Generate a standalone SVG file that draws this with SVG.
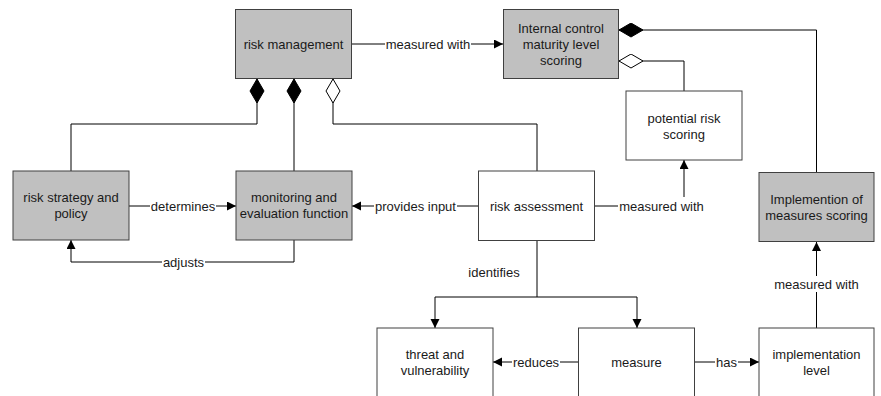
<svg xmlns="http://www.w3.org/2000/svg" width="881" height="396" viewBox="0 0 881 396">
<style>
.box{stroke:#404040;stroke-width:1}
.g{fill:#c0c0c0}
.w{fill:#fff}
text{font-family:"Liberation Sans",Arial,sans-serif;font-size:13px;fill:#1a1a1a;text-anchor:middle;dominant-baseline:central}
.c{fill:none;stroke:#000;stroke-width:1}
.lb{fill:#fff;stroke:none}
</style>
<defs>
<marker id="arr" markerUnits="userSpaceOnUse" markerWidth="10" markerHeight="10" refX="9" refY="4.5" orient="auto"><path d="M0,0 L9,4.5 L0,9 z" fill="#000"/></marker>
<marker id="dfill" markerUnits="userSpaceOnUse" markerWidth="26" markerHeight="16" refX="0.5" refY="7.5" orient="auto"><path d="M0.5,7.5 L12.5,0.5 L24.5,7.5 L12.5,14.5 z" fill="#000" stroke="#000"/></marker>
<marker id="dopen" markerUnits="userSpaceOnUse" markerWidth="26" markerHeight="16" refX="0.5" refY="7.5" orient="auto"><path d="M0.5,7.5 L12.5,0.5 L24.5,7.5 L12.5,14.5 z" fill="#fff" stroke="#000"/></marker>
</defs>
<g id="connectors">
<path class="c" d="M352,44 H503" marker-end="url(#arr)"/>
<path class="c" d="M257,79 V124 H71 V171" marker-start="url(#dfill)"/>
<path class="c" d="M294,79 V171" marker-start="url(#dfill)"/>
<path class="c" d="M333,79 V124 H537 V171" marker-start="url(#dopen)"/>
<path class="c" d="M619,30 H816.5 V172" marker-start="url(#dfill)"/>
<path class="c" d="M619,61 H684 V91" marker-start="url(#dopen)"/>
<path class="c" d="M129,206 H236" marker-end="url(#arr)"/>
<path class="c" d="M478,206 H352" marker-end="url(#arr)"/>
<path class="c" d="M294,240 V262 H71 V240" marker-end="url(#arr)"/>
<path class="c" d="M595,206 H684 V160" marker-end="url(#arr)"/>
<path class="c" d="M537,241 V297 H435 V328" marker-end="url(#arr)"/>
<path class="c" d="M537,297 H637 V328" marker-end="url(#arr)"/>
<path class="c" d="M578,362 H493" marker-end="url(#arr)"/>
<path class="c" d="M694,362 H759" marker-end="url(#arr)"/>
<path class="c" d="M816.5,328 V242" marker-end="url(#arr)"/>
<rect class="lb" x="385" y="37" width="86" height="14"/>
<text x="428" y="44">measured with</text>
<rect class="lb" x="150" y="199" width="66" height="14"/>
<text x="183" y="206">determines</text>
<rect class="lb" x="374" y="199" width="83" height="14"/>
<text x="415.5" y="206">provides input</text>
<rect class="lb" x="162" y="255" width="43" height="14"/>
<text x="183.5" y="262">adjusts</text>
<rect class="lb" x="618" y="197" width="87" height="16"/>
<text x="661.5" y="206">measured with</text>
<text x="494" y="272">identifies</text>
<rect class="lb" x="512" y="355" width="48" height="14"/>
<text x="536" y="362">reduces</text>
<rect class="lb" x="715" y="355" width="23" height="14"/>
<text x="726.5" y="362">has</text>
<rect class="lb" x="773" y="276" width="87" height="16"/>
<text x="816.5" y="284">measured with</text>
</g>
<g id="risk-management"><rect class="box g" x="235.5" y="9.5" width="116" height="69"/><text x="293.5" y="44">risk management</text></g>
<g id="internal-control"><rect class="box g" x="503.5" y="9.5" width="115" height="69"/><text x="561" y="28.5">Internal control</text><text x="561" y="44">maturity level</text><text x="561" y="60">scoring</text></g>
<g id="potential-risk"><rect class="box w" x="626" y="91" width="116" height="69"/><text x="684" y="118">potential risk</text><text x="684" y="134">scoring</text></g>
<g id="risk-strategy"><rect class="box g" x="13" y="171" width="116" height="69"/><text x="71" y="197.5">risk strategy and</text><text x="71" y="213.5">policy</text></g>
<g id="monitoring"><rect class="box g" x="236" y="171" width="116" height="69"/><text x="294" y="197.5">monitoring and</text><text x="294" y="213.5">evaluation function</text></g>
<g id="risk-assessment"><rect class="box w" x="478.5" y="171" width="116" height="69.5"/><text x="536.5" y="206">risk assessment</text></g>
<g id="implemention"><rect class="box g" x="759" y="172.5" width="115" height="69"/><text x="816.5" y="199">Implemention of</text><text x="816.5" y="215">measures scoring</text></g>
<g id="threat"><rect class="box w" x="377" y="328" width="116" height="70"/><text x="435" y="354.5">threat and</text><text x="435" y="370">vulnerability</text></g>
<g id="measure"><rect class="box w" x="578.5" y="328" width="116" height="70"/><text x="636.5" y="362">measure</text></g>
<g id="implementation-level"><rect class="box w" x="759" y="328" width="115" height="70"/><text x="816.5" y="354.5">implementation</text><text x="816.5" y="370">level</text></g>
</svg>
